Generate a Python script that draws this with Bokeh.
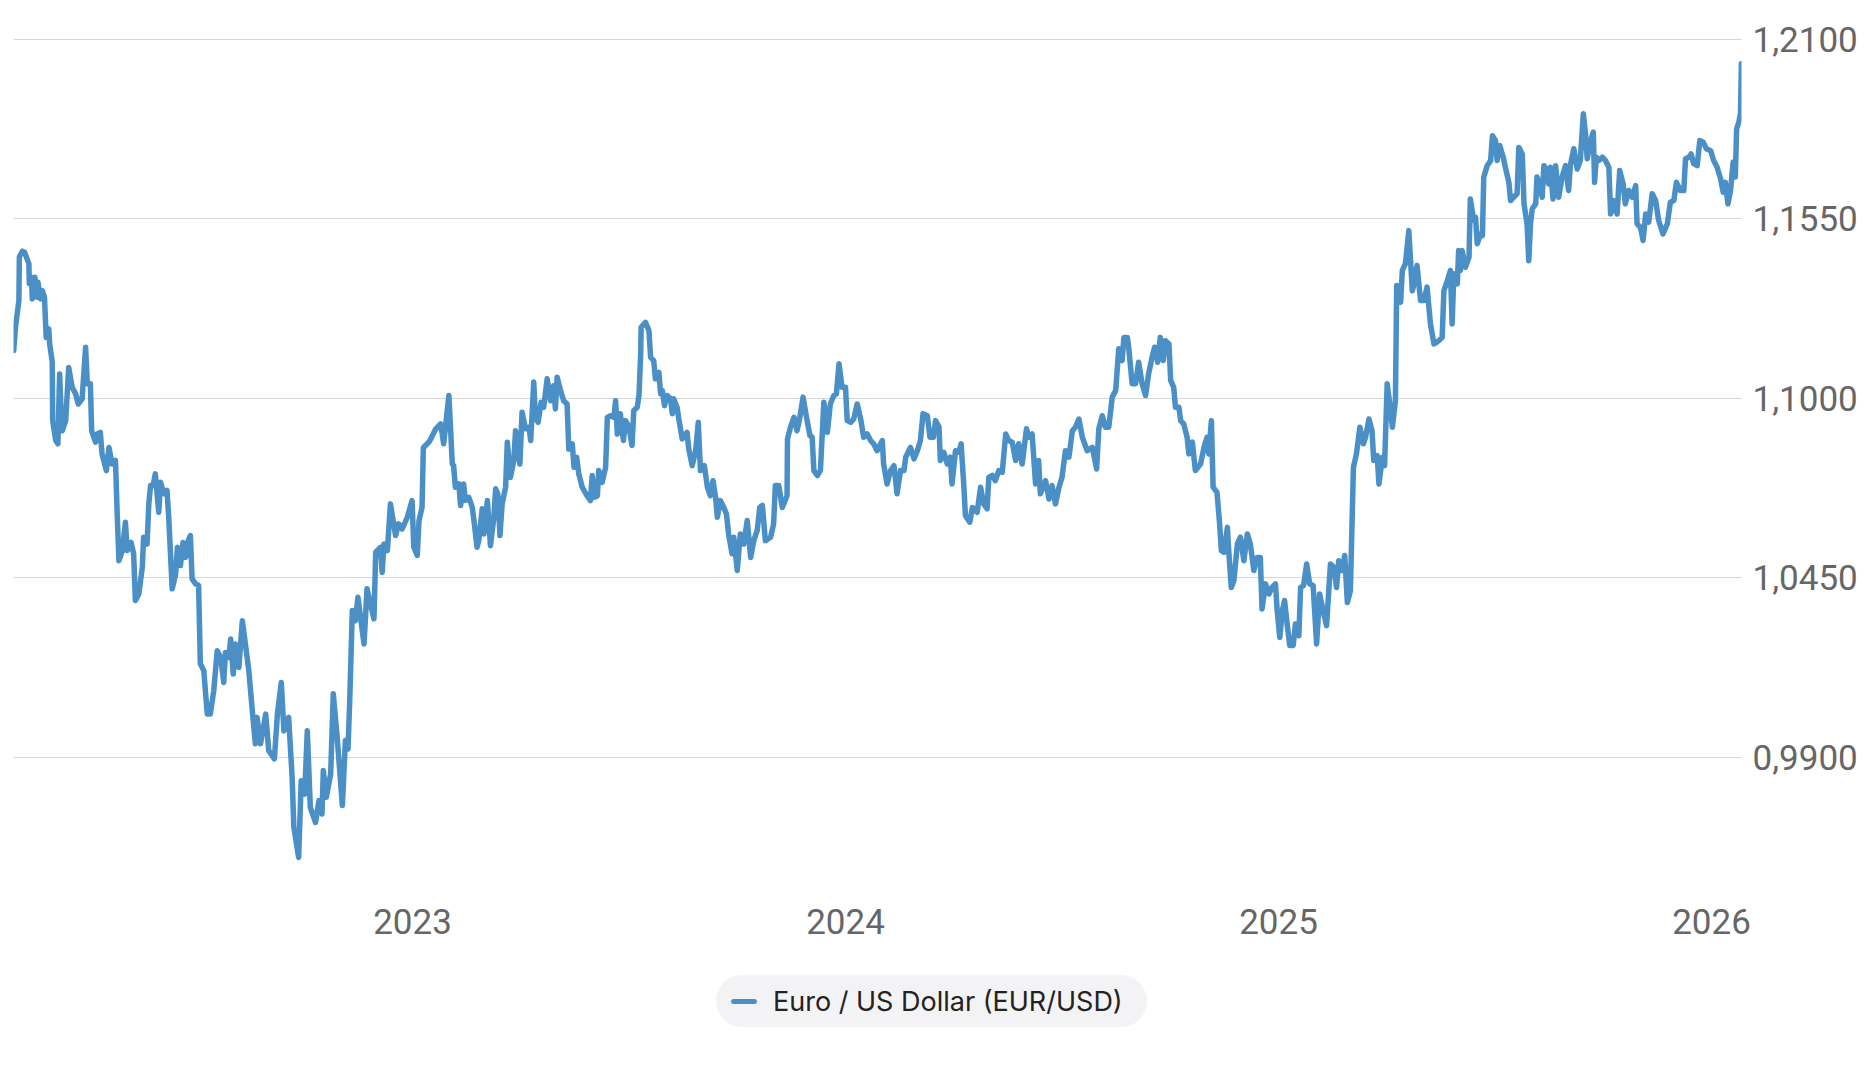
from bokeh.plotting import figure
from bokeh.layouts import column
from bokeh.models import (ColumnDataSource, CustomJSTickFormatter, Legend,
                          LegendItem, Range1d)
from bokeh.embed import file_html
from bokeh.resources import INLINE

SERIES_NAME = "Euro / US Dollar (EUR/USD)"
X_TICKS = [2023, 2024, 2025, 2026]
Y_TICKS = [0.99, 1.045, 1.10, 1.155, 1.21]

# decimal years of each reading
YEARS = [
    2022.079, 2022.083, 2022.091, 2022.092, 2022.099, 2022.104, 2022.114, 2022.115, 2022.120, 2022.122,
    2022.128, 2022.133, 2022.135, 2022.141, 2022.145, 2022.150, 2022.152, 2022.154, 2022.160, 2022.162,
    2022.168, 2022.169, 2022.176, 2022.181, 2022.185, 2022.189, 2022.191, 2022.199, 2022.206, 2022.214,
    2022.222, 2022.228, 2022.237, 2022.245, 2022.249, 2022.256, 2022.259, 2022.268, 2022.272, 2022.279,
    2022.283, 2022.287, 2022.293, 2022.299, 2022.306, 2022.314, 2022.318, 2022.322, 2022.330, 2022.337,
    2022.341, 2022.350, 2022.356, 2022.360, 2022.368, 2022.376, 2022.379, 2022.387, 2022.391, 2022.395,
    2022.401, 2022.406, 2022.414, 2022.418, 2022.426, 2022.433, 2022.437, 2022.445, 2022.453, 2022.457,
    2022.464, 2022.470, 2022.476, 2022.482, 2022.487, 2022.491, 2022.499, 2022.506, 2022.510, 2022.518,
    2022.526, 2022.533, 2022.541, 2022.549, 2022.557, 2022.564, 2022.568, 2022.576, 2022.580, 2022.586,
    2022.591, 2022.599, 2022.607, 2022.614, 2022.622, 2022.630, 2022.637, 2022.641, 2022.649, 2022.661,
    2022.668, 2022.681, 2022.688, 2022.697, 2022.703, 2022.714, 2022.722, 2022.726, 2022.737, 2022.743,
    2022.751, 2022.757, 2022.764, 2022.776, 2022.784, 2022.791, 2022.794, 2022.801, 2022.811, 2022.817,
    2022.826, 2022.838, 2022.845, 2022.851, 2022.855, 2022.861, 2022.868, 2022.874, 2022.880, 2022.888,
    2022.895, 2022.903, 2022.911, 2022.915, 2022.926, 2022.930, 2022.934, 2022.942, 2022.949, 2022.961,
    2022.968, 2022.976, 2022.988, 2022.999, 2023.003, 2023.011, 2023.015, 2023.022, 2023.025, 2023.039,
    2023.053, 2023.065, 2023.072, 2023.084, 2023.092, 2023.095, 2023.099, 2023.107, 2023.111, 2023.118,
    2023.122, 2023.130, 2023.138, 2023.142, 2023.149, 2023.153, 2023.161, 2023.165, 2023.173, 2023.180,
    2023.188, 2023.192, 2023.197, 2023.202, 2023.207, 2023.215, 2023.219, 2023.226, 2023.234, 2023.238,
    2023.248, 2023.253, 2023.261, 2023.269, 2023.273, 2023.280, 2023.284, 2023.290, 2023.297, 2023.303,
    2023.311, 2023.319, 2023.326, 2023.330, 2023.334, 2023.342, 2023.349, 2023.357, 2023.361, 2023.369,
    2023.373, 2023.379, 2023.384, 2023.392, 2023.403, 2023.411, 2023.415, 2023.420, 2023.427, 2023.430,
    2023.438, 2023.446, 2023.450, 2023.457, 2023.465, 2023.469, 2023.473, 2023.480, 2023.487, 2023.492,
    2023.500, 2023.507, 2023.511, 2023.519, 2023.523, 2023.527, 2023.528, 2023.538, 2023.546, 2023.550,
    2023.557, 2023.561, 2023.569, 2023.573, 2023.577, 2023.582, 2023.588, 2023.596, 2023.600, 2023.603,
    2023.611, 2023.615, 2023.623, 2023.634, 2023.638, 2023.646, 2023.654, 2023.660, 2023.665, 2023.674,
    2023.681, 2023.688, 2023.694, 2023.700, 2023.704, 2023.711, 2023.719, 2023.725, 2023.730, 2023.738,
    2023.742, 2023.750, 2023.757, 2023.765, 2023.773, 2023.781, 2023.788, 2023.796, 2023.802, 2023.808,
    2023.815, 2023.827, 2023.834, 2023.838, 2023.846, 2023.854, 2023.865, 2023.866, 2023.873, 2023.881,
    2023.888, 2023.894, 2023.902, 2023.910, 2023.918, 2023.923, 2023.927, 2023.935, 2023.942, 2023.950,
    2023.958, 2023.965, 2023.973, 2023.979, 2023.985, 2023.992, 2024.000, 2024.004, 2024.012, 2024.019,
    2024.027, 2024.035, 2024.042, 2024.050, 2024.058, 2024.065, 2024.073, 2024.085, 2024.088, 2024.096,
    2024.104, 2024.112, 2024.119, 2024.127, 2024.135, 2024.139, 2024.150, 2024.158, 2024.166, 2024.173,
    2024.179, 2024.189, 2024.195, 2024.203, 2024.208, 2024.216, 2024.219, 2024.227, 2024.235, 2024.242,
    2024.246, 2024.254, 2024.262, 2024.267, 2024.273, 2024.277, 2024.287, 2024.293, 2024.304, 2024.312,
    2024.319, 2024.327, 2024.331, 2024.339, 2024.346, 2024.354, 2024.362, 2024.370, 2024.377, 2024.385,
    2024.393, 2024.400, 2024.408, 2024.418, 2024.423, 2024.431, 2024.439, 2024.446, 2024.450, 2024.462,
    2024.470, 2024.477, 2024.485, 2024.493, 2024.500, 2024.508, 2024.516, 2024.524, 2024.531, 2024.539,
    2024.547, 2024.558, 2024.570, 2024.580, 2024.585, 2024.593, 2024.600, 2024.608, 2024.616, 2024.624,
    2024.631, 2024.639, 2024.643, 2024.651, 2024.654, 2024.662, 2024.670, 2024.677, 2024.685, 2024.693,
    2024.700, 2024.708, 2024.714, 2024.721, 2024.727, 2024.734, 2024.739, 2024.747, 2024.751, 2024.758,
    2024.762, 2024.770, 2024.774, 2024.781, 2024.789, 2024.793, 2024.801, 2024.808, 2024.820, 2024.828,
    2024.835, 2024.839, 2024.845, 2024.849, 2024.858, 2024.864, 2024.868, 2024.874, 2024.882, 2024.885,
    2024.891, 2024.897, 2024.905, 2024.912, 2024.920, 2024.928, 2024.935, 2024.943, 2024.951, 2024.958,
    2024.962, 2024.970, 2024.978, 2024.985, 2024.993, 2024.997, 2025.003, 2025.009, 2025.014, 2025.020,
    2025.026, 2025.034, 2025.039, 2025.047, 2025.051, 2025.058, 2025.065, 2025.072, 2025.080, 2025.088,
    2025.095, 2025.103, 2025.111, 2025.120, 2025.128, 2025.134, 2025.139, 2025.147, 2025.153, 2025.159,
    2025.166, 2025.170, 2025.173, 2025.180, 2025.188, 2025.196, 2025.201, 2025.209, 2025.216, 2025.220,
    2025.228, 2025.232, 2025.240, 2025.245, 2025.251, 2025.259, 2025.263, 2025.270, 2025.273, 2025.278,
    2025.282, 2025.286, 2025.293, 2025.301, 2025.309, 2025.313, 2025.320, 2025.328, 2025.336, 2025.343,
    2025.351, 2025.359, 2025.370, 2025.378, 2025.382, 2025.390, 2025.397, 2025.401, 2025.405, 2025.413,
    2025.416, 2025.420, 2025.424, 2025.432, 2025.440, 2025.443, 2025.451, 2025.455, 2025.459, 2025.467,
    2025.471, 2025.474, 2025.482, 2025.490, 2025.494, 2025.501, 2025.505, 2025.511, 2025.519, 2025.524,
    2025.532, 2025.536, 2025.543, 2025.551, 2025.555, 2025.563, 2025.567, 2025.574, 2025.578, 2025.582,
    2025.586, 2025.594, 2025.597, 2025.603, 2025.609, 2025.613, 2025.621, 2025.624, 2025.628, 2025.634,
    2025.640, 2025.647, 2025.655, 2025.663, 2025.670, 2025.674, 2025.682, 2025.690, 2025.697, 2025.704,
    2025.709, 2025.713, 2025.721, 2025.727, 2025.730, 2025.734, 2025.740, 2025.748, 2025.755, 2025.763,
    2025.767, 2025.774, 2025.782, 2025.788, 2025.796, 2025.801, 2025.809, 2025.817, 2025.825, 2025.828,
    2025.836, 2025.842, 2025.848, 2025.855, 2025.863, 2025.871, 2025.878, 2025.888, 2025.898, 2025.905,
    2025.913, 2025.919, 2025.928, 2025.936, 2025.940, 2025.948, 2025.953, 2025.959, 2025.967, 2025.973,
    2025.981, 2025.988, 2025.998, 2026.005, 2026.013, 2026.021, 2026.027, 2026.032, 2026.038, 2026.044,
    2026.050, 2026.055, 2026.058, 2026.063, 2026.067, 2026.069,
]

# EUR/USD rate at each reading
RATES = [
    1.1146, 1.1217, 1.1299, 1.1432, 1.1450, 1.1447, 1.1412, 1.1351, 1.1370, 1.1304,
    1.1370, 1.1309, 1.1355, 1.1304, 1.1329, 1.1309, 1.1248, 1.1186, 1.1212, 1.1166,
    1.1110, 1.0931, 1.0870, 1.0860, 1.1074, 1.0941, 1.0900, 1.0931, 1.1094, 1.1033,
    1.1013, 1.0982, 1.0998, 1.1156, 1.1044, 1.1044, 1.0900, 1.0865, 1.0890, 1.0895,
    1.0829, 1.0809, 1.0778, 1.0849, 1.0798, 1.0809, 1.0645, 1.0502, 1.0533, 1.0620,
    1.0533, 1.0558, 1.0523, 1.0380, 1.0400, 1.0482, 1.0574, 1.0553, 1.0676, 1.0732,
    1.0732, 1.0768, 1.0650, 1.0742, 1.0707, 1.0717, 1.0635, 1.0416, 1.0461, 1.0543,
    1.0487, 1.0558, 1.0512, 1.0563, 1.0579, 1.0446, 1.0431, 1.0426, 1.0186, 1.0165,
    1.0032, 1.0032, 1.0104, 1.0226, 1.0206, 1.0129, 1.0221, 1.0206, 1.0262, 1.0155,
    1.0247, 1.0175, 1.0318, 1.0247, 1.0165, 1.0043, 0.9941, 1.0022, 0.9941, 1.0032,
    0.9920, 0.9895, 1.0032, 1.0129, 0.9981, 1.0022, 0.9838, 0.9685, 0.9593, 0.9828,
    0.9787, 0.9981, 0.9746, 0.9700, 0.9767, 0.9726, 0.9859, 0.9777, 0.9849, 1.0094,
    0.9961, 0.9752, 0.9951, 0.9925, 1.0073, 1.0349, 1.0318, 1.0390, 1.0328, 1.0247,
    1.0416, 1.0370, 1.0324, 1.0528, 1.0543, 1.0466, 1.0553, 1.0533, 1.0676, 1.0579,
    1.0615, 1.0599, 1.0635, 1.0686, 1.0543, 1.0518, 1.0625, 1.0665, 1.0848, 1.0867,
    1.0904, 1.0921, 1.0860, 1.1008, 1.0798, 1.0793, 1.0727, 1.0737, 1.0671, 1.0737,
    1.0686, 1.0696, 1.0665, 1.0625, 1.0543, 1.0563, 1.0661, 1.0584, 1.0686, 1.0548,
    1.0635, 1.0722, 1.0707, 1.0579, 1.0676, 1.0727, 1.0865, 1.0757, 1.0809, 1.0900,
    1.0798, 1.0957, 1.0906, 1.0911, 1.0870, 1.1049, 1.0941, 1.0926, 1.0987, 1.0972,
    1.1059, 1.0992, 1.1038, 1.0967, 1.1064, 1.1023, 1.0992, 1.0982, 1.0844, 1.0860,
    1.0788, 1.0819, 1.0768, 1.0727, 1.0701, 1.0686, 1.0763, 1.0696, 1.0701, 1.0778,
    1.0742, 1.0788, 1.0941, 1.0946, 1.0941, 1.0992, 1.0890, 1.0952, 1.0870, 1.0931,
    1.0911, 1.0855, 1.0962, 1.0972, 1.1008, 1.1136, 1.1217, 1.1232, 1.1207, 1.1125,
    1.1115, 1.1059, 1.1079, 1.1013, 1.1023, 1.0977, 1.1008, 1.0998, 1.0952, 1.0998,
    1.0972, 1.0936, 1.0875, 1.0895, 1.0844, 1.0793, 1.0839, 1.0926, 1.0778, 1.0793,
    1.0727, 1.0701, 1.0747, 1.0696, 1.0635, 1.0686, 1.0665, 1.0645, 1.0584, 1.0523,
    1.0574, 1.0472, 1.0584, 1.0553, 1.0625, 1.0512, 1.0563, 1.0594, 1.0665, 1.0671,
    1.0563, 1.0574, 1.0615, 1.0732, 1.0732, 1.0665, 1.0701, 1.0875, 1.0911, 1.0941,
    1.0900, 1.0936, 1.1003, 1.0941, 1.0885, 1.0880, 1.0778, 1.0763, 1.0778, 1.0987,
    1.0895, 1.0982, 1.1008, 1.1013, 1.1105, 1.1033, 1.1033, 1.0931, 1.0926, 1.0936,
    1.0982, 1.0936, 1.0880, 1.0890, 1.0870, 1.0860, 1.0839, 1.0870, 1.0798, 1.0737,
    1.0778, 1.0793, 1.0707, 1.0778, 1.0778, 1.0819, 1.0849, 1.0814, 1.0839, 1.0870,
    1.0952, 1.0946, 1.0880, 1.0880, 1.0931, 1.0911, 1.0809, 1.0834, 1.0798, 1.0819,
    1.0737, 1.0839, 1.0834, 1.0860, 1.0737, 1.0640, 1.0620, 1.0665, 1.0650, 1.0727,
    1.0676, 1.0661, 1.0757, 1.0763, 1.0747, 1.0778, 1.0773, 1.0890, 1.0870, 1.0865,
    1.0809, 1.0860, 1.0798, 1.0906, 1.0880, 1.0890, 1.0737, 1.0809, 1.0707, 1.0747,
    1.0691, 1.0732, 1.0676, 1.0727, 1.0757, 1.0839, 1.0819, 1.0900, 1.0911, 1.0936,
    1.0880, 1.0839, 1.0849, 1.0783, 1.0906, 1.0946, 1.0911, 1.0911, 1.1003, 1.1023,
    1.1151, 1.1115, 1.1186, 1.1186, 1.1156, 1.1044, 1.1044, 1.1110, 1.1044, 1.1008,
    1.1074, 1.1125, 1.1156, 1.1110, 1.1186, 1.1115, 1.1176, 1.1166, 1.1054, 1.1033,
    1.0972, 1.0972, 1.0931, 1.0921, 1.0880, 1.0829, 1.0865, 1.0778, 1.0798, 1.0849,
    1.0880, 1.0829, 1.0931, 1.0727, 1.0711, 1.0615, 1.0533, 1.0528, 1.0604, 1.0533,
    1.0420, 1.0441, 1.0553, 1.0574, 1.0502, 1.0584, 1.0553, 1.0472, 1.0512, 1.0512,
    1.0354, 1.0431, 1.0400, 1.0420, 1.0431, 1.0349, 1.0267, 1.0349, 1.0380, 1.0308,
    1.0242, 1.0242, 1.0308, 1.0272, 1.0420, 1.0426, 1.0492, 1.0431, 1.0426, 1.0247,
    1.0400, 1.0349, 1.0303, 1.0492, 1.0482, 1.0420, 1.0502, 1.0472, 1.0518, 1.0374,
    1.0410, 1.0625, 1.0788, 1.0829, 1.0911, 1.0860, 1.0880, 1.0936, 1.0900, 1.0809,
    1.0824, 1.0737, 1.0819, 1.0793, 1.1044, 1.0962, 1.0911, 1.0992, 1.1345, 1.1299,
    1.1294, 1.1391, 1.1411, 1.1513, 1.1329, 1.1350, 1.1406, 1.1299, 1.1299, 1.1340,
    1.1227, 1.1166, 1.1176, 1.1186, 1.1329, 1.1360, 1.1391, 1.1227, 1.1381, 1.1350,
    1.1452, 1.1391, 1.1452, 1.1401, 1.1432, 1.1610, 1.1544, 1.1554, 1.1473, 1.1503,
    1.1498, 1.1677, 1.1712, 1.1728, 1.1804, 1.1789, 1.1728, 1.1774, 1.1738, 1.1707,
    1.1661, 1.1605, 1.1615, 1.1626, 1.1768, 1.1748, 1.1595, 1.1534, 1.1421, 1.1534,
    1.1580, 1.1595, 1.1677, 1.1656, 1.1615, 1.1712, 1.1697, 1.1656, 1.1707, 1.1610,
    1.1712, 1.1615, 1.1677, 1.1712, 1.1636, 1.1712, 1.1764, 1.1702, 1.1728, 1.1871,
    1.1810, 1.1733, 1.1789, 1.1815, 1.1661, 1.1738, 1.1728, 1.1738, 1.1728, 1.1707,
    1.1564, 1.1605, 1.1564, 1.1697, 1.1656, 1.1595, 1.1636, 1.1615, 1.1651, 1.1534,
    1.1523, 1.1483, 1.1564, 1.1539, 1.1626, 1.1605, 1.1544, 1.1503, 1.1534, 1.1600,
    1.1605, 1.1661, 1.1636, 1.1636, 1.1733, 1.1738, 1.1748, 1.1718, 1.1712, 1.1789,
    1.1784, 1.1764, 1.1758, 1.1728, 1.1707, 1.1672, 1.1631, 1.1661, 1.1595, 1.1636,
    1.1723, 1.1677, 1.1825, 1.1845, 1.1871, 1.2024,
]

LINE_COLOR = "#4a8fc6"

n = min(len(YEARS), len(RATES))
source = ColumnDataSource(data=dict(x=YEARS[:n], y=RATES[:n]))

p = figure(
    frame_width=1728, frame_height=860,
    x_range=Range1d(2022.0785, 2026.0693),
    y_range=Range1d(0.95223, 1.21567),
    y_axis_location="right",
    min_border_left=13, min_border_top=20, min_border_bottom=95, min_border_right=0,
    output_backend="svg", toolbar_location=None,
    background_fill_color="white", border_fill_color="white",
)
p.outline_line_color = None

line = p.line("x", "y", source=source, line_width=5.5, line_color=LINE_COLOR,
              line_join="round", line_cap="round")

# grid
p.xgrid.visible = False
p.ygrid.grid_line_color = "#d6d6d6"
p.ygrid.grid_line_width = 1

# y axis (right)
yax = p.yaxis[0]
yax.ticker = Y_TICKS
yax.formatter = CustomJSTickFormatter(code="return tick.toFixed(4).replace('.', ',');")
yax.axis_line_color = None
yax.major_tick_line_color = None
yax.minor_tick_line_color = None
yax.major_tick_out = 0
yax.major_tick_in = 0
yax.major_label_standoff = 11
yax.major_label_text_font = "Roboto"
yax.major_label_text_font_size = "35px"
yax.major_label_text_color = "#666666"

# x axis
xax = p.xaxis[0]
xax.ticker = X_TICKS
xax.formatter = CustomJSTickFormatter(code="return tick.toFixed(0);")
xax.axis_line_color = None
xax.major_tick_line_color = None
xax.minor_tick_line_color = None
xax.major_tick_out = 0
xax.major_tick_in = 0
xax.major_label_standoff = 28
xax.major_label_text_font = "Roboto"
xax.major_label_text_font_size = "35px"
xax.major_label_text_color = "#666666"

# legend strip below the chart (same frame geometry as the chart)
LEG_H = 80
leg = figure(
    frame_width=1728, frame_height=LEG_H,
    x_range=Range1d(0, 1), y_range=Range1d(0, 1),
    x_axis_type=None, y_axis_type=None,
    min_border_left=13, min_border_top=0, min_border_bottom=0, min_border_right=0,
    output_backend="svg", toolbar_location=None,
    background_fill_color="white", border_fill_color="white",
)
leg.outline_line_color = None
leg.xgrid.visible = False
leg.ygrid.visible = False
# the series itself, outside this strip's ranges: only its legend key (a dash) shows
key = leg.scatter("x", "y", source=source, marker="dash", size=23,
                  line_width=5, line_color=LINE_COLOR, line_cap="round")

legend = Legend(
    items=[LegendItem(label=SERIES_NAME, renderers=[key])],
    location=(703, LEG_H - 52),
    orientation="horizontal",
    background_fill_color="#f3f3f5", background_fill_alpha=1.0,
    border_line_color=None,
    padding=0, margin=0, spacing=0,
    glyph_width=55, glyph_height=52, label_height=52, label_width=374,
    label_standoff=2,
    label_text_font="Inter", label_text_font_size="27px",
    label_text_color="#222222",
)
try:
    legend.border_radius = 26
except Exception:
    pass
leg.add_layout(legend)

layout = column(p, leg, spacing=0)
open("out.html", "w").write(file_html(layout, INLINE))
